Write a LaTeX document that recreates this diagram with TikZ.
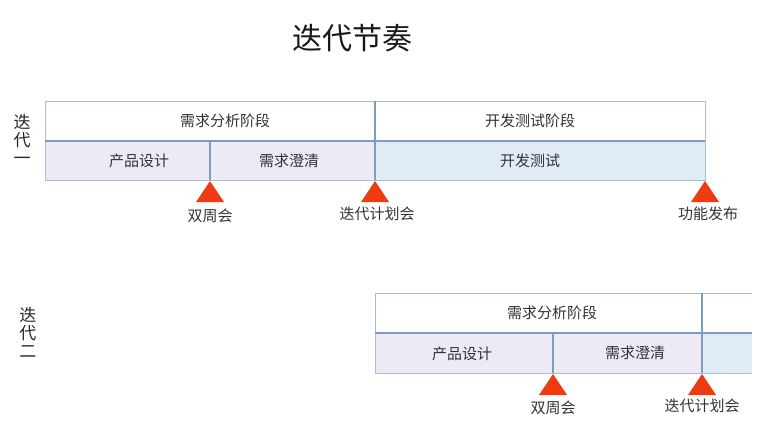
\documentclass[tikz,border=0pt]{standalone}
\usepackage{fontspec}
\setmainfont{Noto Sans CJK SC}
\begin{document}
\begin{tikzpicture}[x=1pt,y=-1pt,
  boxline/.style={draw=boxblue,line width=0.8pt},
  divline/.style={draw=divblue,line width=1.2pt},
  lbl/.style={font=\fontsize{15}{17}\selectfont,text=black!80},
  milestone/.style={fill=msred,draw=none},
  vlabel/.style={font=\fontsize{17}{18}\selectfont,text=black!85,align=center,inner sep=0pt}]
\definecolor{boxblue}{HTML}{A9BED6}
\definecolor{divblue}{HTML}{7E9CC0}
\definecolor{msred}{HTML}{F03A12}
\definecolor{lav}{HTML}{EEEAF5}
\definecolor{lblue}{HTML}{E1EBF6}
\useasboundingbox (0,0) rectangle (771,432);
\node[font=\fontsize{30}{30}\selectfont,text=black!90] (title) at (352,38) {迭代节奏};
% iteration 1
\fill[lav] (45,141) rectangle (375,180);
\fill[lblue] (375,141) rectangle (705,180);
\draw[boxline] (45,101) rectangle (705,180);
\draw[divline] (45,141) -- (705,141);
\draw[divline] (375,101) -- (375,180);
\draw[divline] (210,141) -- (210,180);
\node[lbl] (a1) at (225,121) {需求分析阶段};
\node[lbl] (a2) at (530,121) {开发测试阶段};
\node[lbl] (a3) at (139,161) {产品设计};
\node[lbl] (a4) at (289,161) {需求澄清};
\node[lbl] (a5) at (530,161) {开发测试};
\node[vlabel] (it1) at (22,139) {迭\\代\\一};
\fill[milestone] (210,181) -- (224,202) -- (196,202) -- cycle;
\fill[milestone] (375,181) -- (389,202) -- (361,202) -- cycle;
\fill[milestone] (705,181) -- (719,202) -- (691,202) -- cycle;
\node[lbl] (m1) at (210,216) {双周会};
\node[lbl] (m2) at (377,214) {迭代计划会};
\node[lbl] (m3) at (708,214) {功能发布};
% iteration 2
\fill[lav] (375,333) rectangle (702,373);
\fill[lblue] (702,333) rectangle (752,373);
\draw[boxline] (752,293) -- (375,293) -- (375,373) -- (752,373);
\draw[divline] (375,333) -- (752,333);
\draw[divline] (702,293) -- (702,373);
\draw[divline] (553,333) -- (553,373);
\node[lbl] (b1) at (552,313) {需求分析阶段};
\node[lbl] (b3) at (462,354) {产品设计};
\node[lbl] (b4) at (635,353) {需求澄清};
\node[vlabel] (it2) at (28,332) {迭\\代\\二};
\fill[milestone] (553,374) -- (567,395) -- (539,395) -- cycle;
\fill[milestone] (702,374) -- (716,395) -- (688,395) -- cycle;
\node[lbl] (n1) at (553,408) {双周会};
\node[lbl] (n2) at (702,406) {迭代计划会};
\end{tikzpicture}
\end{document}
